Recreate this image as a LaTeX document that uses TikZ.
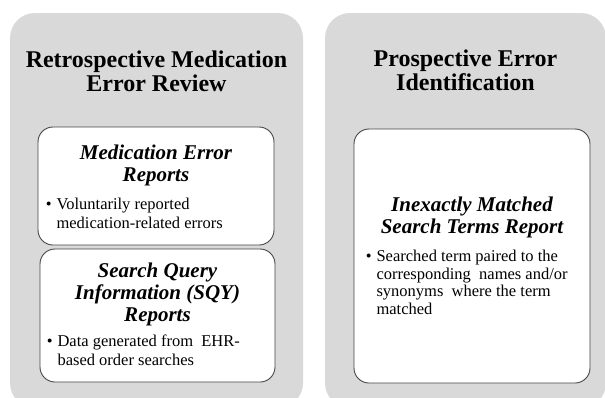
\documentclass[tikz,border=0pt]{standalone}
\usepackage{fontspec}
\setmainfont{Liberation Serif}
\usepackage{xcolor}
\usetikzlibrary{shapes,positioning}
\definecolor{panelgray}{RGB}{217,217,217}
\definecolor{cardline}{RGB}{70,70,70}

\begin{document}
\begin{tikzpicture}[x=1pt, y=-1pt]
\tikzstyle{panel} = [rectangle, rounded corners=25pt, fill=panelgray, inner sep=0pt]
\tikzstyle{card} = [rectangle, rounded corners=15pt, draw=cardline, line width=0.9pt, fill=white, inner sep=0pt]
\tikzstyle{title} = [inner sep=0pt, font=\fontsize{24}{24}\selectfont\bfseries]
\tikzstyle{heading} = [inner sep=0pt, font=\fontsize{21}{22}\selectfont\bfseries\itshape]
\tikzstyle{bullets} = [inner sep=0pt, anchor=north west, font=\fontsize{16.5}{18.5}\selectfont]
\useasboundingbox (0,0) rectangle (605,397);
\clip (0,0) rectangle (605,397);
\node[panel, minimum width=293pt, minimum height=395pt] (retro) at (156.5,210.5) {};
\node[panel, minimum width=281pt, minimum height=395pt] (prosp) at (465.5,210.5) {};
\node[title, anchor=north, below=37.2pt of retro.north] (retrotitle) {
	\begin{tabular}{@{}c@{}}
		Retrospective Medication \\
		Error Review
	\end{tabular}
};
\node[title, anchor=north, below=36.2pt of prosp.north] (prosptitle) {
	\begin{tabular}{@{}c@{}}
		Prospective Error \\
		Identification
	\end{tabular}
};
\node[card, minimum width=236pt, minimum height=118pt] (mederr) at (156,186) {};
\node[card, minimum width=235pt, minimum height=133pt] (sqy) at (157.5,315.5) {};
\node[card, minimum width=236pt, minimum height=254pt] (inexact) at (472,256) {};
\node[heading, below=17.6pt of mederr.north] (mederrhead) {
	\begin{tabular}{@{}c@{}}
		Medication Error \\
		Reports
	\end{tabular}
};
\node[bullets, below right=70pt and 8pt of mederr.north west] (mederrtext) {
	\begin{tabular}{@{}l@{\hspace{5pt}}l@{}}
		\textbullet & Voluntarily reported \\
		& medication-related errors
	\end{tabular}
};
\node[heading, below=13.6pt of sqy.north] (sqyhead) {
	\begin{tabular}{@{}c@{}}
		Search Query \\
		Information (SQY) \\
		Reports
	\end{tabular}
};
\node[bullets, below right=85pt and 7pt of sqy.north west] (sqytext) {
	\begin{tabular}{@{}l@{\hspace{5pt}}l@{}}
		\textbullet & Data generated from \ EHR- \\
		& based order searches
	\end{tabular}
};
\node[heading, below=67.6pt of inexact.north] (inexacthead) {
	\begin{tabular}{@{}c@{}}
		Inexactly Matched \\
		Search Terms Report
	\end{tabular}
};
\node[bullets, below right=120pt and 12pt of inexact.north west, font=\fontsize{16.5}{17.8}\selectfont] (inexacttext) {
	\begin{tabular}{@{}l@{\hspace{5pt}}l@{}}
		\textbullet & Searched term paired to the \\
		& corresponding \ names and/or \\
		& synonyms \ where the term \\
		& matched
	\end{tabular}
};
\end{tikzpicture}
\end{document}
